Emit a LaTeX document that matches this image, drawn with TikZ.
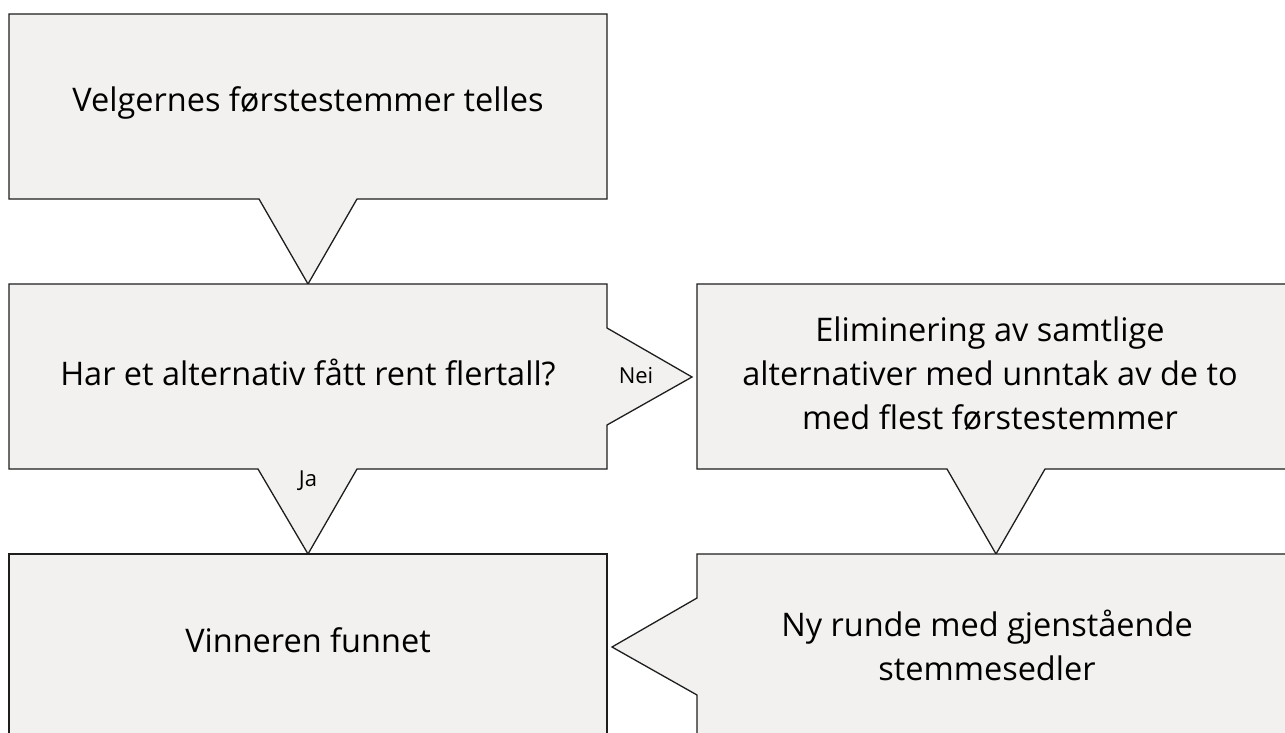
\documentclass[tikz,border=0pt]{standalone}
\usepackage{fontspec}
\setmainfont{Open Sans}
\definecolor{boxfill}{RGB}{242,241,239}
\definecolor{boxline}{RGB}{30,30,30}
\tikzset{
  callout/.style={fill=boxfill, draw=boxline, line width=1.3pt, line join=miter},
  maintext/.style={font=\fontsize{32.5}{44}\selectfont, align=center, text=black, inner sep=0pt},
  smalltext/.style={font=\fontsize{22}{26}\selectfont, text=black, inner sep=0pt},
}
\begin{document}
\begin{tikzpicture}[x=1pt,y=-1pt]
\useasboundingbox (0,0) rectangle (1285,733);
\clip (0,0) rectangle (1285,733);
\fill[white] (0,0) rectangle (1285,733);
% box 1
\draw[callout] (9,14) -- (607,14) -- (607,199) -- (357,199) -- (308,284) -- (259,199) -- (9,199) -- cycle;
% box 2
\draw[callout] (9,284) -- (607,284) -- (607,328) -- (692,377) -- (607,425) -- (607,469) -- (357,469) -- (308,554) -- (258,469) -- (9,469) -- cycle;
% box 3
\draw[callout] (697,284) -- (1300,284) -- (1300,469) -- (1045,469) -- (996,554) -- (947,469) -- (697,469) -- cycle;
% box 4
\draw[callout] (697,554) -- (1300,554) -- (1300,745) -- (697,745) -- (697,695) -- (612,647) -- (697,598) -- cycle;
% box 5
\draw[callout] (9,554) -- (607,554) -- (607,745) -- (9,745) -- cycle;
% texts
\node[maintext] (t1) at (308,103) {Velgernes førstestemmer telles};
\node[maintext] (t2) at (308,372) {Har et alternativ fått rent flertall?};
\node[maintext] (t3) at (990,374) {Eliminering av samtlige\\alternativer med unntak av de to\\med flest førstestemmer};
\node[maintext] (t4) at (987,645) {Ny runde med gjenstående\\stemmesedler};
\node[maintext] (t5) at (308,640) {Vinneren funnet};
\node[smalltext] (nei) at (636,376) {Nei};
\node[smalltext] (ja) at (308,481) {Ja};
\end{tikzpicture}
\end{document}
